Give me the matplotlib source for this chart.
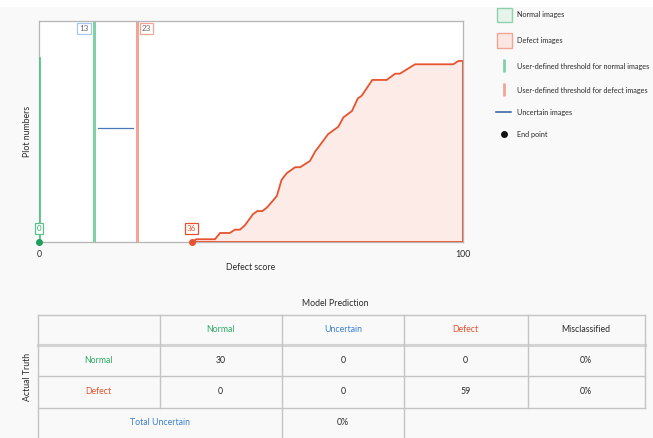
import matplotlib.pyplot as plt
from matplotlib.patches import Rectangle
import numpy as np

plt.rcParams['font.family'] = ['Lato', 'DejaVu Sans']

# defect image curve (defect score, plot number)
defect_x = [36.4, 37.0, 41.5, 42.7, 45.0, 46.2, 47.4, 48.6, 50.5, 51.5, 52.7, 53.8, 56.1, 57.2,
            58.4, 60.4, 61.6, 63.9, 65.1, 68.2, 70.6, 71.8, 73.8, 75.2, 76.1, 77.3, 78.6, 82.0,
            84.0, 85.1, 88.7, 97.7, 98.9, 100.0]
defect_y = [0.0, 0.015, 0.015, 0.049, 0.049, 0.067, 0.067, 0.092, 0.152, 0.168, 0.168, 0.188, 0.25,
            0.337, 0.373, 0.406, 0.406, 0.44, 0.49, 0.586, 0.626, 0.677, 0.711, 0.78, 0.794, 0.835,
            0.88, 0.88, 0.914, 0.914, 0.965, 0.965, 0.983, 0.983]
normal_x = [0, 0]
normal_y = [0, 1.0]
normal_threshold = 13
defect_threshold = 23
uncertain_x = [14.0, 22.2]
uncertain_y = [0.62, 0.62]
normal_end = 0
defect_end = 36

legend_labels = ['Normal images', 'Defect images', 'User-defined threshold for normal images',
                 'User-defined threshold for defect images', 'Uncertain images', 'End point']

col_labels = ['', 'Normal', 'Uncertain', 'Defect', 'Misclassified']
row_labels = ['Normal', 'Defect']
table_values = [['30', '0', '0', '0%'],
                ['0', '0', '59', '0%']]
total_uncertain = '0%'

GREEN = '#2eaa66'
GREEN_LINE = '#5cc08f'
GREEN_THR = '#80d0a8'
RED = '#e8532f'
RED_THR = '#f2a596'
RED_FILL = '#fcebe6'
BLUE = '#3a7fd0'
BLUE_LINE = '#4a78b8'
GRID = '#c4c4c4'
TXT = '#2a2a2a'
FS = 6.3

W, H = 653, 438
fig = plt.figure(figsize=(W / 100, H / 100), dpi=100, facecolor='#f9f9f9')
ax = fig.add_axes([39 / W, (H - 242) / H, (463 - 39) / W, (242 - 21) / H])
ax.set_facecolor('white')
ax.set_xlim(0, 100)
ax.set_ylim(0, 1.2)

ax.fill_between(defect_x + [100], defect_y + [0], 0, color=RED_FILL, zorder=1)
ax.plot(defect_x + [100, defect_x[0]], defect_y + [0, 0], color=RED, lw=1.3, zorder=3,
        solid_joinstyle='miter')
ax.plot(normal_x, normal_y, color=GREEN_LINE, lw=2, zorder=3)
ax.axvline(normal_threshold, color=GREEN_THR, lw=2.2, zorder=2)
ax.axvline(defect_threshold, color=RED_THR, lw=2.2, zorder=2)
ax.plot(uncertain_x, uncertain_y, color=BLUE_LINE, lw=0.9, zorder=2)
ax.plot([normal_end], [0], 'o', color='#1e9e5a', ms=4, zorder=5, clip_on=False)
ax.plot([defect_end], [0], 'o', color=RED, ms=4, zorder=5, clip_on=False)


def box_label(x, y, text, dx, dy, edge, color):
    ax.annotate(text, (x, y), xytext=(dx, dy), textcoords='offset pixels',
                ha='center', va='center', fontsize=5.8, color=color, zorder=6,
                annotation_clip=False,
                bbox=dict(boxstyle='square,pad=0.25', fc='white', ec=edge, lw=0.9))


box_label(normal_end, 0, str(normal_end), 0, 13.5, GREEN_LINE, GREEN)
box_label(defect_end, 0, str(defect_end), 0, 13.5, RED, RED)
box_label(normal_threshold, 1.2, str(normal_threshold), -10, -7.5, '#a8c8ec', '#666666')
box_label(defect_threshold, 1.2, str(defect_threshold), 10, -7.5, RED_THR, '#666666')

for s in ax.spines.values():
    s.set_color('#b5b5b5')
    s.set_linewidth(0.9)
ax.set_xticks([0, 100])
ax.set_yticks([])
ax.tick_params(axis='x', length=0, pad=6, labelsize=FS, labelcolor=TXT)
ax.set_xlabel('Defect score', fontsize=FS, color=TXT, labelpad=3)
ax.set_ylabel('Plot numbers', fontsize=FS, color=TXT, labelpad=5)

# overlay in pixel coordinates for legend and table
ov = fig.add_axes([0, 0, 1, 1], zorder=-1)
ov.set_xlim(0, W)
ov.set_ylim(H, 0)
ov.axis('off')
ov.add_patch(Rectangle((0, 0), W, 6, color='white', zorder=0))

leg_y = [15, 41, 66, 90, 112, 134]
ov.add_patch(Rectangle((496.5, 7.5), 15, 14.5, fc='#e6f4ec', ec='#8fd0ad', lw=1))
ov.add_patch(Rectangle((496.5, 33), 15, 14.5, fc='#fbe7e1', ec='#f0a595', lw=1))
ov.plot([504, 504], [59, 72], color=GREEN_THR, lw=2, solid_capstyle='butt')
ov.plot([504, 504], [83, 96], color=RED_THR, lw=2, solid_capstyle='butt')
ov.plot([496, 511], [112, 112], color='#2d5aa0', lw=1.1)
ov.plot([504], [134], 'o', color='#111111', ms=4)
for yy, lab in zip(leg_y, legend_labels):
    ov.text(517, yy, lab, fontsize=5.2, color=TXT, va='center', ha='left')

# confusion table
cols = [37.5, 159.5, 282, 404, 527.5, 645]
rows = [314.5, 345, 376, 407.5, 438]
ov.text((cols[0] + cols[-1]) / 2 - 6, 304, 'Model Prediction', fontsize=FS, color=TXT,
        ha='center', va='center')
ov.text(27, (rows[1] + rows[3]) / 2 + 1, 'Actual Truth', fontsize=FS, color=TXT,
        ha='center', va='center', rotation=90)
for yy in [rows[0], rows[2], rows[3]]:
    ov.plot([cols[0], cols[-1]], [yy, yy], color=GRID, lw=1)
ov.plot([cols[0], cols[-1]], [rows[1], rows[1]], color='#d4d4d4', lw=2.2)
for xx in cols:
    bottom = rows[4] if xx in (cols[0], cols[2], cols[3]) else rows[3]
    ov.plot([xx, xx], [rows[0], bottom], color=GRID, lw=1)

col_colors = [TXT, GREEN, BLUE, RED, TXT]
for j, lab in enumerate(col_labels):
    ov.text((cols[j] + cols[j + 1]) / 2, (rows[0] + rows[1]) / 2, lab, fontsize=FS,
            color=col_colors[j], ha='center', va='center')
for i, lab in enumerate(row_labels):
    yy = (rows[i + 1] + rows[i + 2]) / 2
    ov.text((cols[0] + cols[1]) / 2, yy, lab, fontsize=FS, color=[GREEN, RED][i],
            ha='center', va='center')
    for j, v in enumerate(table_values[i]):
        ov.text((cols[j + 1] + cols[j + 2]) / 2, yy, v, fontsize=FS, color=TXT,
                ha='center', va='center')
ov.text((cols[0] + cols[2]) / 2, (rows[3] + rows[4]) / 2, 'Total Uncertain', fontsize=FS,
        color=BLUE, ha='center', va='center')
ov.text((cols[2] + cols[3]) / 2, (rows[3] + rows[4]) / 2, total_uncertain, fontsize=FS,
        color=TXT, ha='center', va='center')

fig.savefig('out.png', dpi=100, facecolor=fig.get_facecolor())
